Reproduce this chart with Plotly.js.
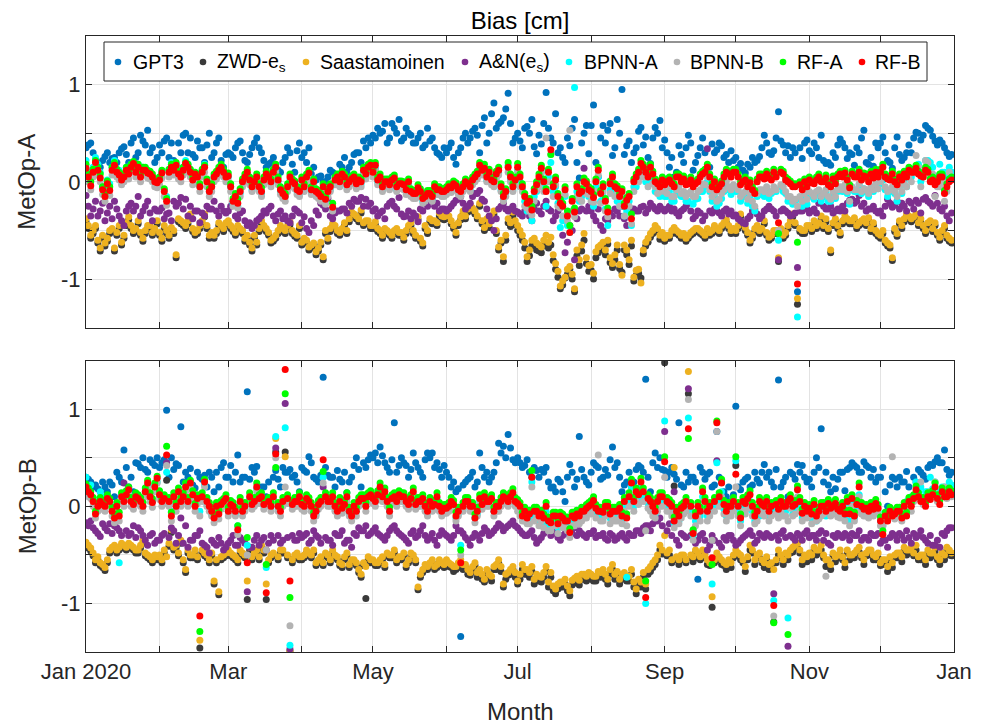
<!DOCTYPE html>
<html>
<head>
<meta charset="utf-8">
<script src="https://cdn.plot.ly/plotly-3.0.1.min.js"></script>
<style>html,body{margin:0;padding:0;background:#fff;}#chart{width:988px;height:724px;}</style>
</head>
<body>
<div id="chart"></div>
<script>
// ---- Data: daily bias [cm] in 2020, stored as even days (0,2,...,364) and odd days (1,3,...,365) from 2020-01-01 ----
const startDate = '2020-01-01';
const seriesNames = ['GPT3', 'ZWD-e<sub>s</sub>', 'Saastamoinen', 'A&amp;N(e<sub>s</sub>)', 'BPNN-A', 'BPNN-B', 'RF-A', 'RF-B'];
const seriesColors = ['#0072BD', '#3a3a3a', '#EDB120', '#7E2F8E', '#00FFFF', '#B3B3B3', '#00FF00', '#FF0000'];
const panelNames = ['MetOp-A', 'MetOp-B'];
const labelTicks = ['2020-01-01','2020-03-01','2020-05-01','2020-07-01','2020-09-01','2020-11-01','2021-01-01'];
const labelTickText = ['Jan 2020','Mar','May','Jul','Sep','Nov','Jan'];

// ===== MetOp-A, even days =====
const A_GPT3 = [
 0.35,0.40,0.22,0.15,0.26,0.20,0.25,0.30,0.36,0.20,0.45,0.30,0.42,0.53,0.35,0.25,
 0.30,0.45,0.40,0.15,0.30,0.50,0.45,0.25,0.35,0.20,0.50,0.30,0.45,0.15,
 0.30,0.25,0.40,0.30,0.20,0.35,0.45,0.30,0.15,0.20,0.15,0.10,0.25,0.30,0.10,0.40,
 0.30,0.35,0.15,0.05,0.00,0.05,0.10,0.04,0.15,0.10,0.20,0.30,0.20,0.35,0.40,
 0.45,0.50,0.60,0.45,0.55,0.64,0.45,0.50,0.40,0.45,0.35,0.55,0.45,0.30,0.25,
 0.30,0.40,0.18,0.35,0.50,0.45,0.55,0.30,0.66,0.50,0.81,0.60,0.66,0.91,0.40,
 0.50,0.35,0.57,0.64,0.29,0.39,0.92,0.45,0.70,0.35,0.20,0.37,0.64,0.04,0.50,0.29,
 0.79,0.05,0.58,0.53,0.27,0.64,0.95,0.37,0.20,0.35,0.56,0.46,0.19,0.56,0.63,
 0.43,0.15,0.05,0.37,0.20,0.48,0.12,0.27,0.45,0.08,0.39,0.33,0.37,0.28,0.32,
 0.25,0.19,0.09,0.15,0.20,0.26,0.48,0.30,0.32,0.72,0.38,0.37,0.35,-1.13,0.24,0.43,
 0.29,0.35,0.48,0.19,0.17,0.25,0.44,0.35,0.30,0.17,0.30,0.53,0.18,0.16,0.35,
 0.46,0.22,0.14,0.46,0.22,0.30,0.30,0.51,0.43,0.58,0.53,0.42,0.43,0.35,0.26];
const A_ZWD = [
 -0.41,-0.58,-0.48,-0.71,-0.66,-0.53,-0.71,-0.48,-0.58,-0.39,-0.53,-0.43,-0.61,-0.48,-0.55,-0.43,
 -0.61,-0.53,-0.50,-0.78,-0.43,-0.48,-0.36,-0.55,-0.48,-0.36,-0.58,-0.58,-0.45,-0.51,
 -0.43,-0.51,-0.48,-0.53,-0.58,-0.71,-0.65,-0.43,-0.51,-0.63,-0.58,-0.48,-0.53,-0.44,-0.56,-0.48,
 -0.61,-0.70,-0.66,-0.71,-0.80,-0.61,-0.46,-0.53,-0.51,-0.53,-0.34,-0.38,-0.32,-0.43,-0.48,
 -0.44,-0.53,-0.51,-0.55,-0.53,-0.55,-0.60,-0.48,-0.53,-0.39,-0.66,-0.53,-0.43,-0.45,-0.38,
 -0.34,-0.43,-0.55,-0.39,-0.38,-0.27,-0.33,-0.25,-0.50,-0.47,-0.33,-0.70,-0.82,-0.42,-0.35,
 -0.50,-0.60,-0.82,-0.66,-0.70,-0.73,-0.62,-0.65,-0.90,-1.10,-0.99,-0.90,-1.13,-0.86,-0.60,-0.92,
 -1.00,-0.73,-0.66,-0.64,-0.88,-0.70,-0.93,-0.75,-0.66,-0.96,-0.99,-0.66,-0.57,-0.49,-0.59,
 -0.61,-0.58,-0.50,-0.55,-0.56,-0.58,-0.53,-0.51,-0.55,-0.51,-0.53,-0.51,-0.48,-0.42,-0.53,
 -0.53,-0.36,-0.50,-0.63,-0.51,-0.53,-0.43,-0.60,-0.53,-0.82,-0.58,-0.48,-0.36,-1.26,-0.53,-0.48,
 -0.51,-0.48,-0.38,-0.41,-0.73,-0.41,-0.55,-0.38,-0.43,-0.40,-0.45,-0.41,-0.40,-0.45,-0.56,
 -0.53,-0.66,-0.81,-0.56,-0.48,-0.36,-0.41,-0.36,-0.41,-0.53,-0.43,-0.45,-0.60,-0.48,-0.61];
const A_SAAS = [
 -0.38,-0.55,-0.45,-0.68,-0.63,-0.50,-0.68,-0.45,-0.55,-0.36,-0.50,-0.40,-0.58,-0.45,-0.52,-0.40,
 -0.58,-0.50,-0.47,-0.75,-0.40,-0.45,-0.33,-0.52,-0.45,-0.33,-0.55,-0.55,-0.42,-0.48,
 -0.40,-0.48,-0.45,-0.50,-0.55,-0.68,-0.62,-0.40,-0.48,-0.60,-0.55,-0.45,-0.50,-0.41,-0.53,-0.45,
 -0.58,-0.67,-0.63,-0.68,-0.77,-0.58,-0.43,-0.50,-0.48,-0.50,-0.31,-0.35,-0.29,-0.40,-0.45,
 -0.41,-0.50,-0.48,-0.52,-0.50,-0.52,-0.57,-0.45,-0.50,-0.36,-0.63,-0.50,-0.40,-0.42,-0.35,
 -0.31,-0.40,-0.52,-0.36,-0.35,-0.24,-0.30,-0.22,-0.47,-0.43,-0.30,-0.67,-0.77,-0.38,-0.31,
 -0.45,-0.55,-0.77,-0.60,-0.63,-0.67,-0.55,-0.57,-0.84,-1.07,-0.98,-0.87,-1.10,-0.80,-0.53,-0.86,
 -0.94,-0.67,-0.62,-0.60,-0.84,-0.65,-0.96,-0.70,-0.60,-0.91,-1.04,-0.62,-0.53,-0.45,-0.55,
 -0.58,-0.55,-0.47,-0.52,-0.53,-0.55,-0.50,-0.48,-0.52,-0.48,-0.50,-0.48,-0.45,-0.39,-0.50,
 -0.50,-0.33,-0.47,-0.60,-0.48,-0.50,-0.40,-0.57,-0.50,-0.78,-0.55,-0.45,-0.33,-1.20,-0.50,-0.45,
 -0.48,-0.45,-0.35,-0.38,-0.70,-0.38,-0.52,-0.35,-0.40,-0.37,-0.42,-0.38,-0.37,-0.42,-0.53,
 -0.50,-0.63,-0.78,-0.53,-0.45,-0.33,-0.38,-0.33,-0.38,-0.50,-0.40,-0.42,-0.57,-0.45,-0.58];
const A_AN = [
 -0.14,-0.35,-0.20,-0.30,-0.40,-0.25,-0.20,-0.35,-0.45,-0.25,-0.30,-0.15,-0.30,-0.20,-0.40,-0.30,
 -0.27,-0.33,-0.40,-0.25,-0.16,-0.18,-0.25,-0.30,-0.42,-0.35,-0.28,-0.20,-0.35,-0.30,
 -0.30,-0.20,-0.38,-0.30,-0.45,-0.48,-0.40,-0.35,-0.32,-0.25,-0.40,-0.30,-0.35,-0.42,-0.28,-0.32,
 -0.36,-0.52,-0.45,-0.34,-0.24,-0.17,-0.38,-0.30,-0.28,-0.32,-0.25,-0.20,-0.16,-0.18,-0.22,
 -0.28,-0.32,-0.38,-0.22,-0.25,-0.16,-0.36,-0.30,-0.32,-0.41,-0.30,-0.25,-0.19,-0.22,-0.28,
 -0.30,-0.25,-0.19,-0.15,-0.28,-0.22,-0.12,-0.09,-0.20,-0.35,-0.50,-0.28,-0.22,-0.30,-0.25,
 -0.31,-0.35,-0.28,-0.40,-0.22,-0.33,-0.20,-0.30,-0.35,-0.25,-0.73,-0.45,-0.80,-0.30,0.14,-0.25,
 -0.35,-0.28,-0.50,-0.40,-0.35,-0.30,-0.25,-0.45,-0.28,-0.30,-0.26,-0.32,-0.22,-0.28,-0.25,
 -0.30,-0.25,-0.28,-0.35,-0.28,-0.22,-0.38,-0.30,-0.40,0.34,-0.32,-0.30,-0.35,-0.28,-0.30,
 -0.34,-0.40,-0.43,-0.35,-0.28,-0.38,-0.30,-0.25,-0.30,-0.80,-0.28,-0.32,-0.34,-0.88,-0.30,-0.28,
 -0.30,-0.32,-0.17,-0.28,-0.25,-0.30,-0.30,-0.30,-0.19,-0.22,-0.14,-0.22,-0.28,-0.25,-0.32,
 -0.35,-0.18,-0.26,-0.20,-0.22,-0.30,-0.22,-0.19,-0.32,-0.16,-0.22,-0.14,-0.28,-0.25,-0.40];
const A_BPNNA = [
 0.22,0.05,0.25,0.10,-0.10,-0.02,0.22,0.12,0.08,0.10,0.20,0.18,0.15,0.10,0.05,0.00,
 0.10,-0.15,0.20,0.18,0.05,0.22,0.12,0.05,-0.05,0.18,-0.10,0.05,0.10,0.08,
 0.05,-0.22,-0.25,0.00,0.08,-0.08,0.03,-0.12,0.05,-0.02,0.12,-0.10,-0.15,0.02,-0.05,-0.12,
 -0.08,0.06,-0.02,-0.15,-0.07,-0.12,-0.28,0.03,0.05,-0.05,0.00,-0.04,-0.02,0.05,0.15,
 0.14,0.02,-0.03,-0.06,0.02,-0.05,-0.06,-0.03,-0.15,-0.09,-0.20,-0.15,-0.18,-0.11,-0.13,
 -0.11,-0.09,-0.07,-0.13,-0.03,-0.08,0.02,0.14,0.12,0.07,-0.03,0.09,-0.18,0.17,-0.08,
 0.12,-0.08,-0.30,-0.40,-0.10,0.10,-0.25,0.20,-0.05,-0.47,-0.15,-0.52,0.97,-0.20,-0.08,-0.15,
 -0.25,0.05,-0.15,-0.45,-0.05,-0.20,-0.25,-0.30,-0.45,-0.05,0.10,0.00,0.05,-0.10,-0.15,
 -0.15,-0.10,-0.20,-0.13,-0.15,-0.20,-0.23,-0.17,-0.10,0.00,-0.20,-0.25,-0.17,-0.05,-0.13,
 -0.10,-0.20,-0.15,-0.17,-0.30,-0.13,-0.15,-0.17,-0.10,-0.60,-0.10,-0.20,-0.23,-1.39,-0.25,-0.23,
 -0.15,-0.13,-0.20,-0.10,-0.20,-0.17,-0.07,-0.05,-0.23,-0.10,-0.03,-0.07,-0.15,-0.10,-0.07,
 0.02,-0.15,-0.08,-0.20,-0.12,-0.05,0.05,0.15,0.00,0.22,0.20,0.05,0.18,0.10,0.15];
const A_BPNNB = [
 0.10,-0.08,0.15,0.00,-0.20,-0.14,0.12,0.02,0.00,0.03,0.14,0.10,0.07,0.04,0.00,-0.06,
 0.04,-0.24,0.10,0.12,0.00,0.14,0.05,0.03,-0.10,0.10,-0.15,0.00,0.07,0.05,
 0.01,-0.25,-0.27,-0.05,0.05,-0.10,0.00,-0.15,0.03,-0.05,0.10,-0.13,-0.20,0.00,-0.07,-0.15,
 -0.10,0.04,-0.05,-0.17,-0.10,-0.15,-0.30,0.00,0.03,-0.08,-0.02,-0.07,-0.05,0.03,0.12,
 0.12,0.00,-0.05,-0.08,-0.01,-0.07,-0.08,-0.05,-0.17,-0.11,-0.22,-0.17,-0.20,-0.13,-0.15,
 -0.13,-0.11,-0.09,-0.15,-0.05,-0.10,0.00,0.12,0.09,0.05,-0.05,0.07,-0.20,0.10,-0.10,
 0.10,-0.10,-0.27,-0.34,-0.08,0.09,0.45,0.28,-0.03,-0.27,-0.13,0.53,-0.36,-0.17,-0.05,-0.13,
 -0.21,0.07,-0.10,-0.36,0.00,-0.12,-0.15,-0.24,-0.43,0.00,0.14,0.05,0.10,-0.05,-0.10,
 -0.10,-0.05,-0.15,-0.05,-0.10,-0.12,-0.15,-0.10,-0.02,0.05,-0.15,-0.20,-0.12,0.00,-0.08,
 -0.05,-0.15,-0.10,-0.12,-0.25,-0.08,-0.10,-0.12,-0.05,-0.50,-0.05,-0.15,-0.20,-0.25,-0.20,-0.18,
 -0.12,-0.10,-0.15,-0.08,-0.18,-0.15,-0.05,-0.03,-0.20,-0.08,-0.02,-0.07,-0.12,-0.08,-0.07,
 0.05,-0.10,-0.05,-0.15,-0.10,-0.05,0.00,0.27,-0.05,0.22,0.05,-0.15,-0.05,-0.20,0.10];
const A_RFA = [
 0.18,0.00,0.22,0.08,-0.12,-0.05,0.20,0.10,0.08,0.12,0.21,0.18,0.15,0.12,0.08,0.02,
 0.12,-0.17,0.18,0.20,0.08,0.20,0.13,0.10,-0.02,0.17,-0.07,0.08,0.15,0.13,
 0.09,-0.17,-0.18,0.03,0.13,-0.02,0.08,-0.06,0.11,0.03,0.18,-0.05,-0.12,0.08,0.01,-0.06,
 -0.02,0.12,0.03,-0.09,-0.02,-0.07,-0.22,0.08,0.11,0.00,0.06,0.01,0.03,0.11,0.20,
 0.20,0.08,0.03,0.00,0.07,0.01,0.00,0.03,-0.09,-0.03,-0.14,-0.09,-0.12,-0.05,-0.07,
 -0.05,-0.03,-0.01,-0.07,0.03,-0.02,0.08,0.20,0.18,0.13,0.03,0.15,-0.12,0.20,-0.02,
 0.19,-0.02,-0.18,-0.25,0.00,0.17,-0.07,0.28,0.05,-0.18,-0.05,-0.45,-0.27,-0.09,0.04,-0.05,
 -0.13,0.15,-0.02,-0.27,0.08,-0.04,-0.07,-0.16,-0.33,0.08,0.22,0.13,0.18,0.03,-0.02,
 0.00,0.05,-0.02,0.08,0.06,0.01,-0.02,0.03,0.11,0.18,-0.02,-0.05,0.01,0.13,0.08,
 0.13,0.00,0.05,0.02,-0.09,0.08,0.06,0.07,0.13,-0.53,0.11,0.03,-0.02,-0.62,-0.05,-0.02,
 0.02,0.05,0.03,0.07,-0.02,0.01,0.11,0.12,-0.03,0.08,0.13,0.09,0.03,0.07,0.08,
 0.18,0.06,0.11,0.00,0.05,0.08,0.13,0.17,0.09,0.15,0.03,0.00,0.08,-0.09,0.03];
const A_RFB = [
 0.14,-0.04,0.20,0.04,-0.15,-0.09,0.17,0.07,0.05,0.08,0.19,0.15,0.12,0.09,0.05,-0.01,
 0.09,-0.20,0.15,0.17,0.05,0.19,0.10,0.08,-0.05,0.15,-0.10,0.05,0.12,0.10,
 0.06,-0.20,-0.22,0.00,0.10,-0.05,0.05,-0.10,0.08,0.00,0.15,-0.08,-0.15,0.05,-0.02,-0.10,
 -0.05,0.09,0.00,-0.12,-0.05,-0.10,-0.26,0.05,0.08,-0.03,0.03,-0.02,0.00,0.08,0.17,
 0.17,0.05,0.00,-0.03,0.04,-0.02,-0.03,0.00,-0.12,-0.06,-0.17,-0.12,-0.15,-0.08,-0.10,
 -0.08,-0.06,-0.04,-0.10,0.00,-0.05,0.05,0.17,0.14,0.10,0.00,0.12,-0.15,0.15,-0.05,
 0.15,-0.05,-0.22,-0.29,-0.03,0.14,-0.10,0.33,0.02,-0.22,-0.08,-0.52,-0.31,-0.12,0.00,-0.08,
 -0.16,0.12,-0.05,-0.31,0.05,-0.07,-0.10,-0.19,-0.38,0.05,0.19,0.10,0.15,0.00,-0.05,
 -0.03,0.02,-0.05,0.05,0.03,-0.02,-0.05,0.00,0.08,0.15,-0.05,-0.08,-0.02,0.10,0.05,
 0.10,-0.03,0.02,-0.01,-0.12,0.05,0.03,0.04,0.10,-0.42,0.08,0.00,-0.05,-1.05,-0.08,-0.05,
 -0.01,0.02,0.00,0.04,-0.05,-0.02,0.08,0.09,-0.06,0.05,0.10,0.06,0.00,0.04,0.05,
 0.15,0.03,0.08,-0.03,0.02,0.05,0.10,0.14,0.06,0.12,0.00,-0.03,0.05,-0.12,0.00];

// ===== MetOp-A, odd days =====
const A_GPT3_odd = [
 0.38,0.30,0.18,0.22,0.30,0.24,0.20,0.34,0.28,0.40,0.25,0.48,0.38,0.30,0.20,
 0.38,0.42,0.25,0.22,0.40,0.48,0.30,0.28,0.42,0.35,0.38,0.25,0.40,0.22,0.28,
 0.28,0.35,0.42,0.22,0.28,0.40,0.35,0.22,0.18,0.25,0.12,0.20,0.35,0.18,0.32,
 0.25,0.20,0.08,0.02,0.06,0.00,0.12,0.08,0.18,0.25,0.15,0.28,0.30,0.42,0.45,
 0.48,0.55,0.52,0.40,0.60,0.50,0.42,0.55,0.48,0.40,0.50,0.38,0.42,0.35,0.28,0.35,
 0.35,0.25,0.30,0.45,0.40,0.52,0.48,0.58,0.40,0.70,0.55,0.62,0.75,0.60,0.45,
 0.42,0.55,0.50,0.36,0.48,0.60,0.55,0.40,0.30,0.25,0.45,0.55,0.20,0.40,0.58,
 0.58,0.20,0.45,0.40,0.60,0.35,0.50,0.28,0.42,0.30,0.52,0.38,0.25,0.45,0.50,0.35,
 0.30,0.25,0.10,0.28,0.35,0.40,0.20,0.35,0.30,0.15,0.30,0.40,0.25,0.20,0.22,
 0.15,0.12,0.18,0.25,0.22,0.35,0.40,0.28,0.45,0.42,0.30,0.25,0.30,0.35,0.40,
 0.32,0.40,0.25,0.22,0.20,0.30,0.38,0.40,0.24,0.28,0.35,0.45,0.20,0.25,0.40,
 0.40,0.30,0.20,0.35,0.28,0.25,0.38,0.45,0.50,0.48,0.55,0.47,0.38,0.40,0.30,0.28];
const A_ZWD_odd = [
 -0.48,-0.53,-0.63,-0.58,-0.61,-0.51,-0.55,-0.65,-0.45,-0.48,-0.51,-0.55,-0.53,-0.48,-0.51,
 -0.55,-0.48,-0.58,-0.53,-0.41,-0.45,-0.43,-0.51,-0.53,-0.43,-0.48,-0.55,-0.53,-0.48,-0.45,
 -0.48,-0.55,-0.51,-0.61,-0.65,-0.58,-0.51,-0.48,-0.55,-0.61,-0.53,-0.51,-0.48,-0.53,-0.58,
 -0.65,-0.63,-0.68,-0.75,-0.65,-0.53,-0.51,-0.48,-0.55,-0.45,-0.41,-0.36,-0.41,-0.45,-0.43,
 -0.48,-0.51,-0.58,-0.53,-0.58,-0.51,-0.55,-0.53,-0.45,-0.58,-0.61,-0.48,-0.41,-0.43,-0.35,-0.39,
 -0.38,-0.48,-0.45,-0.33,-0.31,-0.30,-0.38,-0.43,-0.41,-0.38,-0.53,-0.63,-0.60,-0.46,-0.44,
 -0.55,-0.68,-0.76,-0.64,-0.71,-0.66,-0.68,-0.81,-0.98,-1.06,-0.95,-1.00,-0.76,-0.71,-0.84,
 -0.91,-0.78,-0.70,-0.75,-0.83,-0.80,-0.89,-0.70,-0.85,-1.02,-0.94,-0.74,-0.62,-0.53,-0.51,-0.55,
 -0.58,-0.53,-0.53,-0.58,-0.61,-0.55,-0.51,-0.53,-0.58,-0.55,-0.48,-0.53,-0.45,-0.48,-0.51,
 -0.48,-0.45,-0.55,-0.58,-0.48,-0.51,-0.55,-0.58,-0.53,-0.51,-0.55,-0.43,-0.45,-0.51,-0.53,
 -0.48,-0.43,-0.45,-0.48,-0.51,-0.45,-0.48,-0.43,-0.41,-0.43,-0.48,-0.43,-0.45,-0.51,-0.53,
 -0.58,-0.63,-0.68,-0.51,-0.43,-0.41,-0.38,-0.39,-0.45,-0.48,-0.45,-0.51,-0.55,-0.53,-0.58,-0.63];
const A_SAAS_odd = [
 -0.45,-0.50,-0.60,-0.55,-0.58,-0.48,-0.52,-0.62,-0.42,-0.45,-0.48,-0.52,-0.50,-0.45,-0.48,
 -0.52,-0.45,-0.55,-0.50,-0.38,-0.42,-0.40,-0.48,-0.50,-0.40,-0.45,-0.52,-0.50,-0.45,-0.42,
 -0.45,-0.52,-0.48,-0.58,-0.62,-0.55,-0.48,-0.45,-0.52,-0.58,-0.50,-0.48,-0.45,-0.50,-0.55,
 -0.62,-0.60,-0.65,-0.72,-0.62,-0.50,-0.48,-0.45,-0.52,-0.42,-0.38,-0.33,-0.38,-0.42,-0.40,
 -0.45,-0.48,-0.55,-0.50,-0.55,-0.48,-0.52,-0.50,-0.42,-0.55,-0.58,-0.45,-0.38,-0.40,-0.32,-0.36,
 -0.35,-0.45,-0.42,-0.30,-0.28,-0.27,-0.35,-0.40,-0.38,-0.35,-0.50,-0.60,-0.55,-0.42,-0.40,
 -0.50,-0.62,-0.70,-0.58,-0.65,-0.60,-0.62,-0.75,-0.92,-1.02,-0.90,-0.95,-0.70,-0.65,-0.78,
 -0.85,-0.72,-0.65,-0.70,-0.78,-0.75,-0.85,-0.65,-0.80,-0.98,-0.90,-0.70,-0.58,-0.50,-0.48,-0.52,
 -0.55,-0.50,-0.50,-0.55,-0.58,-0.52,-0.48,-0.50,-0.55,-0.52,-0.45,-0.50,-0.42,-0.45,-0.48,
 -0.45,-0.42,-0.52,-0.55,-0.45,-0.48,-0.52,-0.55,-0.50,-0.48,-0.52,-0.40,-0.42,-0.48,-0.50,
 -0.45,-0.40,-0.42,-0.45,-0.48,-0.42,-0.45,-0.40,-0.38,-0.40,-0.45,-0.40,-0.42,-0.48,-0.50,
 -0.55,-0.60,-0.65,-0.48,-0.40,-0.38,-0.35,-0.36,-0.42,-0.45,-0.42,-0.48,-0.52,-0.50,-0.55,-0.60];
const A_AN_odd = [
 -0.25,-0.28,-0.35,-0.22,-0.32,-0.38,-0.28,-0.40,-0.30,-0.22,-0.25,-0.35,-0.25,-0.32,-0.28,
 -0.30,-0.38,-0.32,-0.20,-0.22,-0.28,-0.35,-0.38,-0.30,-0.32,-0.25,-0.28,-0.30,-0.25,-0.32,
 -0.25,-0.35,-0.32,-0.40,-0.42,-0.45,-0.38,-0.30,-0.28,-0.35,-0.33,-0.38,-0.40,-0.35,-0.30,
 -0.42,-0.48,-0.40,-0.30,-0.22,-0.28,-0.35,-0.32,-0.30,-0.28,-0.22,-0.18,-0.20,-0.25,-0.25,
 -0.30,-0.35,-0.30,-0.25,-0.20,-0.28,-0.33,-0.35,-0.38,-0.35,-0.28,-0.22,-0.20,-0.25,-0.30,-0.28,
 -0.28,-0.22,-0.18,-0.22,-0.25,-0.15,-0.12,-0.18,-0.28,-0.40,-0.38,-0.25,-0.28,-0.28,-0.30,
 -0.33,-0.30,-0.35,-0.28,-0.30,-0.25,-0.28,-0.40,-0.30,-0.55,-0.62,-0.50,-0.38,-0.28,-0.30,
 -0.30,-0.40,-0.45,-0.38,-0.32,-0.28,-0.35,-0.38,-0.30,-0.28,-0.30,-0.25,-0.28,-0.25,-0.30,-0.28,
 -0.28,-0.30,-0.32,-0.30,-0.25,-0.30,-0.35,-0.32,-0.35,-0.30,-0.28,-0.32,-0.30,-0.33,-0.35,
 -0.38,-0.42,-0.38,-0.30,-0.33,-0.35,-0.28,-0.28,-0.35,-0.30,-0.30,-0.35,-0.32,-0.30,-0.26,
 -0.32,-0.28,-0.22,-0.25,-0.28,-0.32,-0.28,-0.25,-0.22,-0.18,-0.20,-0.25,-0.30,-0.28,-0.30,
 -0.30,-0.25,-0.22,-0.24,-0.28,-0.25,-0.20,-0.28,-0.22,-0.18,-0.20,-0.25,-0.22,-0.30,-0.35,-0.32];
const A_BPNNA_odd = [
 0.10,0.15,0.18,-0.05,0.02,0.15,0.12,0.05,0.15,0.18,0.12,0.08,0.14,0.10,0.02,
 0.05,-0.08,0.12,0.15,0.10,0.15,0.18,0.05,0.08,0.12,0.02,-0.05,0.10,0.15,0.05,
 -0.05,-0.18,-0.12,0.05,0.00,-0.02,-0.08,0.00,0.05,0.08,0.00,-0.15,-0.08,-0.02,-0.10,
 0.00,0.03,-0.10,-0.12,-0.18,-0.20,-0.08,0.00,-0.02,0.02,-0.02,0.03,0.00,0.10,0.12,
 0.08,0.00,-0.08,-0.02,0.00,-0.08,-0.05,-0.10,-0.12,-0.15,-0.12,-0.18,-0.15,-0.08,-0.10,-0.12,
 -0.08,-0.05,-0.10,-0.08,-0.05,0.00,0.05,0.10,0.02,0.00,0.05,-0.08,-0.12,0.02,0.00,
 0.00,-0.20,-0.28,-0.15,0.00,-0.05,0.05,-0.10,-0.22,-0.40,-0.45,-0.30,-0.10,-0.15,-0.08,
 -0.15,-0.05,-0.20,-0.28,-0.08,-0.10,-0.22,-0.35,-0.20,-0.05,0.05,0.08,0.00,0.02,-0.08,-0.05,
 -0.15,-0.20,-0.10,-0.15,-0.20,-0.12,-0.18,-0.10,-0.05,-0.10,-0.15,-0.22,-0.10,-0.08,-0.05,
 -0.10,-0.15,-0.22,-0.25,-0.15,-0.10,-0.08,-0.12,-0.10,-0.05,-0.12,-0.18,-0.22,-0.18,-0.15,
 -0.12,-0.18,-0.10,-0.15,-0.20,-0.12,-0.10,-0.10,-0.12,-0.08,-0.10,-0.12,-0.10,-0.08,-0.05,
 -0.02,-0.08,-0.10,-0.12,-0.05,0.00,0.08,0.12,0.18,0.10,0.22,0.15,0.05,0.10,0.05,0.10];
const A_BPNNB_odd = [
 0.00,0.05,0.07,-0.13,-0.07,0.07,0.05,-0.03,0.07,0.10,0.05,0.00,0.07,0.03,-0.05,
 -0.03,-0.15,0.05,0.07,0.03,0.07,0.10,-0.03,0.00,0.05,-0.05,-0.10,0.03,0.10,0.00,
 -0.10,-0.20,-0.15,0.00,-0.03,-0.05,-0.10,-0.03,0.00,0.05,-0.03,-0.17,-0.10,-0.05,-0.13,
 -0.03,0.00,-0.13,-0.15,-0.20,-0.23,-0.10,-0.03,-0.05,0.00,-0.05,0.00,-0.03,0.07,0.10,
 0.05,-0.03,-0.10,-0.05,-0.03,-0.10,-0.07,-0.13,-0.15,-0.17,-0.15,-0.20,-0.17,-0.10,-0.13,-0.15,
 -0.10,-0.07,-0.13,-0.10,-0.07,-0.03,0.03,0.07,0.00,-0.03,0.03,-0.10,-0.15,0.00,-0.03,
 -0.05,-0.25,-0.30,-0.20,-0.05,-0.10,0.00,-0.15,-0.25,-0.35,-0.40,-0.30,-0.15,-0.20,-0.12,
 -0.20,-0.10,-0.22,-0.30,-0.12,-0.15,-0.25,-0.35,-0.25,-0.10,0.00,0.05,-0.05,-0.02,-0.12,-0.08,
 -0.12,-0.15,-0.08,-0.12,-0.15,-0.10,-0.15,-0.08,-0.03,-0.08,-0.12,-0.18,-0.08,-0.05,-0.03,
 -0.08,-0.12,-0.18,-0.20,-0.12,-0.08,-0.05,-0.10,-0.08,-0.03,-0.10,-0.15,-0.18,-0.15,-0.12,
 -0.10,-0.15,-0.08,-0.12,-0.15,-0.10,-0.08,-0.08,-0.10,-0.05,-0.08,-0.10,-0.08,-0.05,-0.02,
 0.00,-0.05,-0.08,-0.10,-0.05,-0.02,0.05,0.10,0.15,0.05,0.20,0.08,-0.05,0.00,-0.10,0.05];
const A_RFA_odd = [
 0.08,0.13,0.15,-0.05,0.01,0.15,0.13,0.05,0.15,0.18,0.13,0.08,0.15,0.11,0.03,
 0.05,-0.07,0.13,0.15,0.11,0.15,0.18,0.05,0.08,0.13,0.03,-0.02,0.11,0.18,0.08,
 -0.02,-0.12,-0.07,0.08,0.05,0.03,-0.02,0.05,0.08,0.13,0.05,-0.09,-0.02,0.03,-0.05,
 0.05,0.08,-0.05,-0.07,-0.12,-0.15,-0.02,0.05,0.03,0.08,0.03,0.08,0.05,0.15,0.18,
 0.13,0.05,-0.02,0.03,0.05,-0.02,0.01,-0.05,-0.07,-0.09,-0.07,-0.12,-0.09,-0.02,-0.05,-0.07,
 -0.02,0.01,-0.05,-0.02,0.01,0.05,0.11,0.15,0.08,0.05,0.11,-0.02,-0.07,0.08,0.05,
 0.08,-0.12,-0.17,-0.07,0.08,0.03,0.13,-0.02,-0.12,-0.22,-0.30,-0.17,-0.02,-0.07,0.01,
 -0.07,0.03,-0.09,-0.17,0.01,-0.02,-0.12,-0.22,-0.12,0.03,0.13,0.18,0.08,0.11,0.01,0.05,
 0.03,0.01,0.08,0.03,0.00,0.05,0.01,0.08,0.13,0.08,0.03,-0.02,0.08,0.11,0.13,
 0.08,0.03,-0.02,-0.05,0.03,0.08,0.11,0.05,0.08,0.13,0.05,0.01,-0.02,0.00,0.03,
 0.05,0.01,0.08,0.03,0.00,0.06,0.08,0.08,0.05,0.11,0.08,0.05,0.08,0.11,0.13,
 0.13,0.08,0.05,0.03,0.08,0.11,0.15,0.13,0.11,0.08,0.13,0.05,0.03,0.08,-0.02,0.05];
const A_RFB_odd = [
 0.05,0.10,0.12,-0.08,-0.02,0.12,0.10,0.02,0.12,0.15,0.10,0.05,0.12,0.08,0.00,
 0.02,-0.10,0.10,0.12,0.08,0.12,0.15,0.02,0.05,0.10,0.00,-0.05,0.08,0.15,0.05,
 -0.05,-0.15,-0.10,0.05,0.02,0.00,-0.05,0.02,0.05,0.10,0.02,-0.12,-0.05,0.00,-0.08,
 0.02,0.05,-0.08,-0.10,-0.15,-0.18,-0.05,0.02,0.00,0.05,0.00,0.05,0.02,0.12,0.15,
 0.10,0.02,-0.05,0.00,0.02,-0.05,-0.02,-0.08,-0.10,-0.12,-0.10,-0.15,-0.12,-0.05,-0.08,-0.10,
 -0.05,-0.02,-0.08,-0.05,-0.02,0.02,0.08,0.12,0.05,0.02,0.08,-0.05,-0.10,0.05,0.02,
 0.05,-0.15,-0.20,-0.10,0.05,0.00,0.10,-0.05,-0.15,-0.25,-0.35,-0.20,-0.05,-0.10,-0.02,
 -0.10,0.00,-0.12,-0.20,-0.02,-0.05,-0.15,-0.25,-0.15,0.00,0.10,0.15,0.05,0.08,-0.02,0.02,
 0.00,-0.02,0.05,0.00,-0.03,0.02,-0.02,0.05,0.10,0.05,0.00,-0.05,0.05,0.08,0.10,
 0.05,0.00,-0.05,-0.08,0.00,0.05,0.08,0.02,0.05,0.10,0.02,-0.02,-0.05,-0.03,0.00,
 0.02,-0.02,0.05,0.00,-0.03,0.03,0.05,0.05,0.02,0.08,0.05,0.02,0.05,0.08,0.10,
 0.10,0.05,0.02,0.00,0.05,0.08,0.12,0.10,0.08,0.05,0.10,0.02,0.00,0.05,-0.05,0.02];

// ===== MetOp-B, even days =====
const B_GPT3 = [
 0.30,0.25,0.22,0.15,0.20,0.25,0.10,0.30,0.58,0.20,0.15,0.44,0.50,0.35,0.45,0.50,
 0.45,0.99,0.50,0.44,0.82,0.35,0.39,0.19,0.30,0.32,0.35,0.15,0.20,0.45,
 0.30,0.25,0.53,0.30,1.18,0.40,0.41,0.20,0.10,0.05,0.37,0.20,0.35,0.38,0.32,0.15,
 0.37,0.51,0.30,0.25,1.33,0.32,0.30,0.37,0.25,0.14,0.30,0.50,0.20,0.40,0.53,
 0.55,0.61,0.45,0.35,0.86,0.42,0.45,0.30,0.55,0.40,0.30,0.55,0.55,0.45,0.30,
 0.35,0.20,0.15,-1.34,0.25,0.30,0.20,0.55,0.30,0.25,0.35,0.65,0.62,0.74,0.48,
 0.50,0.40,0.48,0.30,0.37,0.38,0.40,0.19,0.15,0.25,0.05,0.43,0.20,0.72,0.30,0.22,
 0.45,0.40,0.30,0.32,0.61,0.45,0.15,0.25,0.20,0.38,0.40,1.31,0.15,0.55,0.50,
 0.37,0.35,0.33,0.86,0.20,0.25,0.30,-0.75,0.35,0.33,0.20,0.77,0.25,0.10,0.05,
 1.03,0.17,0.28,0.20,0.35,0.24,0.43,0.35,0.20,1.30,0.25,0.10,0.33,0.43,0.42,0.25,
 0.20,0.50,0.80,0.35,0.15,0.18,0.35,0.16,0.40,0.42,0.35,0.46,0.40,0.38,0.30,
 0.40,0.00,0.30,0.20,0.25,0.36,0.05,0.25,0.35,0.28,0.43,0.46,0.45,0.58,0.32];
const B_ZWD = [
 -0.40,-0.46,-0.58,-0.61,-0.66,-0.48,-0.43,-0.45,-0.43,-0.41,-0.45,-0.48,-0.38,-0.53,-0.58,-0.55,
 -0.58,0.27,-0.27,-0.43,-0.38,-0.68,-0.53,-0.48,-1.46,-0.51,-0.58,-0.80,-0.91,-0.53,
 -0.48,-0.53,-0.58,-0.51,-0.96,-0.55,-0.48,-0.43,-0.96,-0.53,0.56,-0.48,0.56,-1.49,-0.53,-0.55,
 -0.53,-0.51,-0.48,-0.58,-0.61,-0.53,-0.48,-0.55,-0.63,-0.51,-0.58,-0.61,-0.73,-0.95,-0.58,
 -0.61,-0.58,-0.63,-0.53,-0.48,-0.55,-0.51,-0.58,-0.53,-0.86,-0.68,-0.65,-0.58,-0.63,-0.61,
 -0.58,-0.63,-0.65,-0.58,-0.63,-0.71,-0.61,-0.68,-0.78,-0.73,-0.65,-0.58,-0.83,-0.71,-0.65,
 -0.80,-0.65,-0.70,-0.67,-0.75,-0.78,-0.67,-0.73,-0.90,-0.83,-0.80,-0.92,-0.79,-0.81,-0.75,-0.73,
 -0.77,-0.72,-0.70,-0.80,-0.65,-0.72,-0.75,-0.77,-0.70,-0.90,-0.83,-0.85,-0.67,-0.60,-0.45,
 1.48,-0.50,0.21,-0.60,-0.55,1.16,-0.57,-0.53,-0.50,-0.60,-1.04,-0.53,-0.60,-0.65,-0.63,
 0.42,-0.55,-0.67,-0.45,-0.60,-0.53,-0.63,-0.65,-1.19,-0.50,-0.60,-0.55,-0.47,-0.43,-0.60,-0.57,
 -0.55,-0.50,-0.45,-0.62,-0.65,-0.57,-0.50,-0.63,-0.55,-0.53,-0.47,-0.60,-0.50,-0.55,-0.53,
 -0.60,-0.67,-0.63,-0.53,-0.57,-0.50,-0.47,-0.45,-0.55,-0.60,-0.53,-0.47,-0.60,-0.55,-0.50];
const B_SAAS = [
 -0.37,-0.43,-0.55,-0.58,-0.63,-0.45,-0.40,-0.42,-0.40,-0.38,-0.42,-0.45,-0.35,-0.50,-0.55,-0.52,
 -0.55,-0.52,-0.24,-0.40,-0.35,-0.65,-0.50,-0.45,-1.38,-0.48,-0.55,-0.77,-0.88,-0.50,
 -0.45,-0.50,-0.55,-0.48,-0.77,-0.52,-0.45,-0.40,-0.80,-0.50,0.70,-0.45,0.51,-1.49,-0.50,-0.52,
 -0.50,-0.48,-0.45,-0.55,-0.58,-0.50,-0.45,-0.52,-0.60,-0.48,-0.55,-0.58,-0.70,-0.62,-0.55,
 -0.58,-0.55,-0.60,-0.50,-0.45,-0.52,-0.48,-0.55,-0.50,-0.83,-0.65,-0.62,-0.55,-0.60,-0.58,
 -0.55,-0.60,-0.62,-0.55,-0.60,-0.68,-0.58,-0.65,-0.75,-0.70,-0.62,-0.55,-0.80,-0.68,-0.62,
 -0.77,-0.60,-0.65,-0.62,-0.70,-0.73,-0.62,-0.68,-0.85,-0.78,-0.75,-0.87,-0.74,-0.76,-0.70,-0.68,
 -0.72,-0.67,-0.65,-0.75,-0.60,-0.67,-0.70,-0.72,-0.65,-0.85,-0.78,-0.80,-0.62,-0.55,-0.40,
 -0.30,-0.45,0.40,-0.55,-0.50,1.39,-0.52,-0.48,-0.45,-0.55,-0.93,-0.48,-0.55,-0.60,-0.58,
 -0.45,-0.50,-0.62,-0.40,-0.55,-0.48,-0.58,-0.60,-0.65,-0.45,-0.55,-0.50,-0.42,-0.38,-0.55,-0.52,
 -0.50,-0.45,-0.40,-0.55,-0.60,-0.52,-0.45,-0.58,-0.50,-0.48,-0.42,-0.55,-0.45,-0.50,-0.48,
 -0.55,-0.62,-0.58,-0.48,-0.52,-0.45,-0.42,-0.40,-0.50,-0.55,-0.48,-0.42,-0.55,-0.50,-0.45];
const B_AN = [
 -0.17,-0.15,-0.25,-0.31,-0.22,-0.18,-0.20,-0.25,0.24,-0.30,-0.20,-0.22,-0.30,-0.40,-0.28,-0.35,
 -0.30,0.45,-0.22,-0.38,-0.12,-0.20,-0.35,-0.30,-0.25,-0.40,-0.48,-0.38,-0.32,-0.45,
 -0.38,-0.30,-0.40,-0.35,-0.88,-0.42,-0.30,-0.35,-0.45,-0.30,0.60,-0.38,1.06,-1.47,-0.35,-0.28,
 -0.30,-0.38,-0.25,-0.32,0.20,-0.35,-0.40,-0.30,-0.25,-0.35,-0.42,-0.30,-0.25,-0.20,-0.28,
 -0.22,-0.30,-0.35,-0.25,-0.20,-0.28,-0.32,-0.38,-0.25,-0.30,-0.20,-0.35,-0.28,-0.40,-0.25,
 -0.30,-0.35,-0.20,-0.25,-0.32,-0.40,-0.28,-0.35,-0.22,-0.30,-0.25,-0.18,-0.25,-0.20,-0.15,
 -0.22,-0.28,-0.30,-0.25,-0.38,-0.32,-0.20,-0.30,-0.25,-0.35,-0.28,-0.30,-0.22,-0.25,-0.30,-0.28,
 -0.25,-0.30,-0.28,-0.35,-0.30,-0.33,-0.28,-0.35,-0.30,-0.25,-0.28,-0.20,-0.25,-0.15,-0.12,
 0.77,-0.18,0.15,-0.40,-0.30,1.21,-0.25,-0.35,-0.28,-0.45,-0.30,0.47,-0.42,-0.35,-0.30,
 -0.40,-0.35,-0.30,-0.25,-0.38,-0.28,-0.32,-0.30,-0.90,-0.35,-0.25,-1.44,-0.32,-0.28,-0.35,-0.25,
 -0.30,-0.35,-0.25,-0.28,-0.40,-0.32,-0.30,-0.28,-0.35,-0.30,-0.25,-0.32,-0.35,-0.30,-0.28,
 -0.35,-0.42,-0.28,-0.35,-0.30,-0.25,-0.38,-0.32,-0.25,-0.35,-0.30,-0.40,-0.42,-0.30,-0.22];
const B_BPNNA = [
 0.30,0.22,0.00,0.15,0.10,0.05,-0.05,-0.58,0.08,0.15,0.05,0.10,0.00,0.22,0.05,0.25,
 0.05,0.35,-0.05,0.02,0.10,0.22,0.25,0.05,-0.05,0.22,0.00,-0.10,-0.05,0.05,
 -0.05,0.02,-0.20,-0.05,-0.40,0.00,0.18,0.10,-0.63,0.00,0.72,-0.02,0.81,-1.43,0.02,0.08,
 0.00,0.05,-0.08,0.02,0.30,0.05,0.08,-0.05,-0.02,0.08,-0.10,-0.05,0.05,0.00,0.10,
 0.05,0.18,0.12,-0.05,0.08,0.10,0.10,0.00,0.12,0.05,0.05,-0.08,0.00,0.08,-0.05,
 -0.02,0.03,-0.12,-0.40,0.05,0.00,-0.12,0.05,0.10,0.05,-0.05,0.00,0.08,0.03,0.12,
 0.00,-0.12,-0.15,0.25,-0.08,-0.10,-0.05,-0.20,-0.15,-0.12,-0.18,-0.28,-0.15,-0.12,-0.08,-0.05,
 0.02,-0.08,-0.10,-0.05,-0.08,-0.10,-0.15,-0.73,0.20,0.10,0.20,-1.00,0.00,-0.08,0.05,
 0.88,0.00,-0.18,-0.15,-0.05,0.91,-0.30,-0.05,0.10,-0.10,-0.80,0.45,0.15,-0.10,-0.05,
 0.47,-0.15,-0.05,0.05,-0.15,-0.10,-0.05,-0.10,-0.97,-0.08,-0.05,-1.15,-0.08,0.05,-0.12,-0.10,
 -0.12,-0.15,-0.05,-0.10,-0.08,-0.02,-0.10,-0.12,-0.15,-0.12,0.12,-0.08,-0.10,-0.08,-0.05,
 -0.20,-0.10,-0.05,-0.02,-0.08,0.05,0.10,0.25,0.20,0.15,0.30,0.25,0.15,0.20,0.25];
const B_BPNNB = [
 0.15,0.08,-0.12,0.00,-0.05,0.00,-0.17,-0.15,0.00,0.12,-0.03,0.03,-0.05,0.19,-0.01,0.24,
 0.00,0.42,-0.15,-0.05,0.00,0.15,0.19,-0.05,-0.10,0.20,-0.05,-0.17,-0.13,0.00,
 -0.10,-0.05,-0.29,-0.10,-0.50,-0.03,0.15,0.05,-0.45,-0.05,0.50,-0.10,0.20,-1.23,0.00,0.05,
 -0.05,0.00,-0.15,-0.03,0.24,0.00,0.05,-0.10,-0.07,0.05,-0.15,-0.10,0.03,-0.05,0.07,
 0.00,0.15,0.10,-0.10,0.05,0.07,0.05,-0.03,0.10,0.00,0.03,-0.10,-0.05,0.05,-0.10,
 -0.07,0.00,-0.15,-0.50,0.00,-0.05,-0.17,0.03,0.05,0.00,-0.10,-0.05,0.05,0.00,0.09,
 -0.05,-0.15,-0.18,0.20,-0.12,-0.15,-0.10,-0.25,-0.20,-0.18,-0.22,-0.32,-0.20,-0.18,-0.12,-0.08,
 -0.02,0.53,-0.15,-0.08,-0.12,-0.15,-0.18,-0.20,0.10,0.05,0.15,-0.25,-0.05,-0.12,0.00,
 0.30,-0.05,-0.22,-0.18,-0.08,1.10,-0.35,-0.10,0.05,-0.15,-0.35,0.77,0.10,-0.15,-0.10,
 0.20,-0.20,-0.08,0.02,-0.18,-0.05,-0.10,-0.15,-1.13,-0.12,-0.10,-0.15,-0.10,0.10,-0.15,-0.12,
 -0.18,-0.15,-0.10,-0.72,-0.10,-0.05,-0.12,-0.15,-0.20,-0.15,0.10,-0.10,-0.12,-0.10,-0.08,
 -0.20,-0.12,0.51,-0.10,-0.15,-0.05,-0.05,0.10,0.25,0.05,0.15,0.25,0.10,0.20,0.10];
const B_RFA = [
 0.23,0.15,-0.05,0.09,0.04,0.08,-0.08,-0.06,0.09,0.20,0.05,0.12,0.04,0.27,0.08,0.31,
 0.08,0.62,-0.06,0.04,0.09,0.24,0.27,0.03,-1.29,0.28,0.04,-0.08,-0.04,0.08,
 -0.01,0.04,-0.20,-0.01,-0.32,0.06,0.24,0.14,-0.60,0.04,0.40,-0.01,1.16,-0.94,0.09,0.14,
 0.04,0.09,-0.06,0.06,0.36,0.09,0.14,-0.01,0.02,0.14,-0.06,-0.01,0.12,0.04,0.16,
 0.09,0.24,0.19,-0.01,0.14,0.16,0.14,0.06,0.19,0.09,0.12,-0.01,0.04,0.14,-0.01,
 0.02,0.09,-0.06,-0.45,0.09,0.04,-0.08,0.12,0.14,0.09,-0.01,0.04,0.14,0.09,0.18,
 0.07,-0.06,-0.08,0.37,-0.01,-0.04,0.04,-0.13,-0.06,-0.06,-0.11,-0.23,-0.08,-0.06,-0.01,0.04,
 0.10,-0.01,-0.02,0.04,-0.01,-0.01,-0.06,-0.08,0.28,0.19,0.29,-0.77,0.09,-0.01,0.14,
 0.51,0.07,-0.11,-0.06,0.04,0.70,-0.24,0.04,0.19,-0.01,-0.60,0.88,0.28,-0.01,0.04,
 0.51,-0.08,0.07,0.16,-0.06,0.09,0.04,-0.01,-1.20,0.01,0.04,-1.32,0.04,0.21,-0.03,-0.01,
 -0.04,-0.06,0.04,-0.01,0.02,0.07,-0.01,-0.04,-0.04,-0.06,0.24,0.01,-0.01,0.01,0.02,
 -0.25,-0.11,-0.06,-0.01,-0.08,-0.06,0.04,0.21,0.09,0.04,0.11,0.24,0.06,0.14,0.19];
const B_RFB = [
 0.20,0.12,-0.08,0.05,0.00,0.05,-0.12,-0.10,0.05,0.17,0.02,0.08,0.00,0.24,0.04,0.29,
 0.05,0.53,-0.10,0.00,0.05,0.20,0.24,0.00,-1.13,0.25,0.00,-0.12,-0.08,0.05,
 -0.05,0.00,-0.24,-0.05,-0.58,0.02,0.20,0.10,-0.89,0.00,0.54,-0.05,1.41,-0.77,0.05,0.10,
 0.00,0.05,-0.10,0.02,0.48,0.05,0.10,-0.05,-0.02,0.10,-0.10,-0.05,0.08,0.00,0.12,
 0.05,0.20,0.15,-0.05,0.10,0.12,0.10,0.02,0.15,0.05,0.08,-0.05,0.00,0.10,-0.05,
 -0.02,0.05,-0.10,-0.58,0.05,0.00,-0.12,0.08,0.10,0.05,-0.05,0.00,0.10,0.05,0.14,
 0.03,-0.10,-0.12,0.30,-0.05,-0.08,0.00,-0.17,-0.10,-0.10,-0.15,-0.27,-0.12,-0.10,-0.05,0.00,
 0.06,-0.05,-0.06,0.00,-0.05,-0.05,-0.10,-0.12,0.24,0.15,0.25,-0.94,0.05,-0.05,0.10,
 0.46,0.03,-0.15,-0.10,0.00,0.80,-0.28,0.00,0.15,-0.05,-0.53,0.86,0.24,-0.05,0.00,
 0.33,-0.12,0.03,0.12,-0.10,0.05,0.00,-0.05,-1.02,-0.03,0.00,0.05,0.00,0.17,-0.07,-0.05,
 -0.08,-0.10,0.00,-0.05,-0.02,0.03,-0.05,-0.08,-0.08,-0.10,0.20,-0.03,-0.05,-0.03,-0.02,
 -0.29,-0.15,-0.10,-0.05,-0.12,-0.10,0.00,0.17,0.05,0.00,0.07,0.20,0.02,0.10,0.15];

// ===== MetOp-B, odd days =====
const B_GPT3_odd = [
 0.28,0.20,0.18,0.25,0.15,0.22,0.35,0.25,0.40,0.30,0.45,0.40,0.38,0.48,0.42,
 0.40,0.48,0.30,0.38,0.42,0.25,0.30,0.22,0.35,0.28,0.20,0.30,0.35,0.40,0.30,
 0.42,0.35,0.25,0.30,0.28,0.35,0.15,0.20,0.25,0.30,0.28,0.40,0.35,0.30,0.25,
 0.40,0.35,0.45,0.28,0.32,0.40,0.30,0.20,0.28,0.35,0.25,0.42,0.38,0.45,0.48,
 0.50,0.45,0.52,0.40,0.48,0.35,0.50,0.42,0.38,0.45,0.35,0.48,0.50,0.40,0.38,0.42,
 0.30,0.25,0.18,0.22,0.28,0.35,0.25,0.40,0.35,0.30,0.45,0.55,0.50,0.60,0.45,
 0.45,0.42,0.35,0.40,0.30,0.35,0.25,0.20,0.28,0.15,0.30,0.35,0.28,0.38,0.25,
 0.35,0.42,0.28,0.38,0.48,0.40,0.30,0.22,0.35,0.25,0.42,0.35,0.30,0.45,0.40,0.38,
 0.30,0.40,0.28,0.22,0.35,0.30,0.25,0.40,0.28,0.35,0.22,0.30,0.15,0.20,0.12,
 0.20,0.25,0.30,0.22,0.28,0.35,0.30,0.25,0.38,0.20,0.30,0.35,0.28,0.35,0.30,
 0.28,0.35,0.40,0.25,0.22,0.30,0.28,0.35,0.38,0.45,0.40,0.35,0.42,0.30,0.25,
 0.30,0.15,0.22,0.28,0.30,0.25,0.20,0.30,0.38,0.32,0.40,0.42,0.50,0.45,0.38,0.35];
const B_ZWD_odd = [
 -0.43,-0.51,-0.55,-0.63,-0.58,-0.45,-0.48,-0.41,-0.45,-0.43,-0.48,-0.43,-0.51,-0.55,-0.53,
 -0.53,-0.48,-0.41,-0.45,-0.51,-0.58,-0.48,-0.53,-0.55,-0.48,-0.53,-0.51,-0.58,-0.55,-0.51,
 -0.51,-0.55,-0.48,-0.53,-0.45,-0.51,-0.55,-0.48,-0.58,-0.51,-0.55,-0.48,-0.53,-0.58,-0.51,
 -0.55,-0.48,-0.53,-0.61,-0.55,-0.51,-0.58,-0.53,-0.61,-0.55,-0.63,-0.58,-0.68,-0.61,-0.55,
 -0.58,-0.61,-0.55,-0.51,-0.53,-0.58,-0.55,-0.63,-0.51,-0.58,-0.73,-0.63,-0.61,-0.65,-0.58,-0.63,
 -0.62,-0.67,-0.63,-0.65,-0.70,-0.67,-0.73,-0.75,-0.70,-0.77,-0.65,-0.67,-0.75,-0.70,-0.73,
 -0.75,-0.70,-0.73,-0.80,-0.77,-0.73,-0.83,-0.87,-0.85,-0.83,-0.87,-0.81,-0.77,-0.75,-0.77,
 -0.75,-0.77,-0.73,-0.75,-0.70,-0.75,-0.80,-0.73,-0.77,-0.83,-0.80,-0.73,-0.70,-0.63,-0.55,-0.49,
 -0.51,-0.58,-0.55,-0.53,-0.58,-0.53,-0.48,-0.55,-0.53,-0.61,-0.58,-0.55,-0.61,-0.58,-0.53,
 -0.51,-0.58,-0.55,-0.48,-0.53,-0.58,-0.55,-0.61,-0.58,-0.53,-0.51,-0.48,-0.43,-0.48,-0.53,
 -0.51,-0.45,-0.48,-0.53,-0.58,-0.51,-0.53,-0.55,-0.48,-0.53,-0.48,-0.53,-0.51,-0.48,-0.55,
 -0.61,-0.58,-0.55,-0.53,-0.51,-0.45,-0.48,-0.51,-0.55,-0.53,-0.48,-0.51,-0.55,-0.51,-0.45,-0.51];
const B_SAAS_odd = [
 -0.40,-0.48,-0.52,-0.60,-0.55,-0.42,-0.45,-0.38,-0.42,-0.40,-0.45,-0.40,-0.48,-0.52,-0.50,
 -0.50,-0.45,-0.38,-0.42,-0.48,-0.55,-0.45,-0.50,-0.52,-0.45,-0.50,-0.48,-0.55,-0.52,-0.48,
 -0.48,-0.52,-0.45,-0.50,-0.42,-0.48,-0.52,-0.45,-0.55,-0.48,-0.52,-0.45,-0.50,-0.55,-0.48,
 -0.52,-0.45,-0.50,-0.58,-0.52,-0.48,-0.55,-0.50,-0.58,-0.52,-0.60,-0.55,-0.65,-0.58,-0.52,
 -0.55,-0.58,-0.52,-0.48,-0.50,-0.55,-0.52,-0.60,-0.48,-0.55,-0.70,-0.60,-0.58,-0.62,-0.55,-0.60,
 -0.58,-0.62,-0.58,-0.60,-0.65,-0.62,-0.68,-0.70,-0.65,-0.72,-0.60,-0.62,-0.70,-0.65,-0.68,
 -0.70,-0.65,-0.68,-0.75,-0.72,-0.68,-0.78,-0.82,-0.80,-0.78,-0.82,-0.76,-0.72,-0.70,-0.72,
 -0.70,-0.72,-0.68,-0.70,-0.65,-0.70,-0.75,-0.68,-0.72,-0.78,-0.75,-0.68,-0.65,-0.58,-0.50,-0.45,
 -0.48,-0.55,-0.52,-0.50,-0.55,-0.50,-0.45,-0.52,-0.50,-0.58,-0.55,-0.52,-0.58,-0.55,-0.50,
 -0.48,-0.55,-0.52,-0.45,-0.50,-0.55,-0.52,-0.58,-0.55,-0.50,-0.48,-0.45,-0.40,-0.45,-0.50,
 -0.48,-0.42,-0.45,-0.50,-0.55,-0.48,-0.50,-0.52,-0.45,-0.50,-0.45,-0.50,-0.48,-0.45,-0.52,
 -0.58,-0.55,-0.52,-0.50,-0.48,-0.42,-0.45,-0.48,-0.52,-0.50,-0.45,-0.48,-0.52,-0.48,-0.42,-0.48];
const B_AN_odd = [
 -0.20,-0.22,-0.28,-0.18,-0.25,-0.28,-0.22,-0.30,-0.25,-0.28,-0.32,-0.25,-0.35,-0.30,-0.38,
 -0.35,-0.28,-0.32,-0.25,-0.30,-0.38,-0.42,-0.35,-0.30,-0.38,-0.42,-0.35,-0.40,-0.38,-0.42,
 -0.35,-0.40,-0.32,-0.38,-0.42,-0.35,-0.40,-0.32,-0.38,-0.35,-0.30,-0.35,-0.32,-0.30,-0.35,
 -0.32,-0.28,-0.35,-0.30,-0.38,-0.32,-0.35,-0.28,-0.30,-0.38,-0.35,-0.28,-0.22,-0.25,-0.30,
 -0.25,-0.28,-0.32,-0.30,-0.22,-0.25,-0.30,-0.35,-0.28,-0.32,-0.25,-0.30,-0.32,-0.35,-0.30,-0.28,
 -0.32,-0.30,-0.25,-0.28,-0.35,-0.32,-0.30,-0.28,-0.25,-0.28,-0.22,-0.20,-0.22,-0.18,-0.20,
 -0.25,-0.30,-0.28,-0.32,-0.35,-0.28,-0.25,-0.28,-0.32,-0.30,-0.25,-0.28,-0.30,-0.28,-0.32,
 -0.28,-0.32,-0.30,-0.33,-0.28,-0.35,-0.30,-0.32,-0.28,-0.30,-0.25,-0.22,-0.20,-0.18,-0.15,-0.20,
 -0.25,-0.30,-0.35,-0.28,-0.32,-0.30,-0.38,-0.30,-0.35,-0.40,-0.35,-0.38,-0.32,-0.30,-0.35,
 -0.38,-0.32,-0.28,-0.30,-0.35,-0.30,-0.28,-0.32,-0.30,-0.28,-0.32,-0.30,-0.35,-0.30,-0.28,
 -0.32,-0.30,-0.28,-0.35,-0.38,-0.30,-0.28,-0.32,-0.30,-0.28,-0.30,-0.35,-0.32,-0.28,-0.30,
 -0.38,-0.35,-0.32,-0.30,-0.28,-0.35,-0.32,-0.28,-0.30,-0.32,-0.38,-0.40,-0.35,-0.28,-0.25,-0.22];
const B_BPNNA_odd = [
 0.18,0.08,0.02,0.05,0.10,-0.02,0.02,0.12,0.15,0.08,0.12,0.05,0.15,0.12,0.22,
 0.10,0.05,0.02,0.08,0.12,0.08,0.02,0.10,0.05,0.08,0.02,-0.08,-0.03,0.00,0.05,
 0.00,-0.08,0.02,-0.03,0.08,0.02,0.05,0.00,0.02,0.08,-0.03,0.02,0.05,0.00,0.02,
 0.00,0.05,-0.03,-0.08,0.02,0.08,0.02,-0.03,0.02,0.00,-0.08,-0.03,0.02,0.05,0.08,
 0.05,0.10,0.08,0.02,0.05,0.02,0.08,0.02,0.05,0.00,0.02,-0.03,0.02,0.00,-0.03,-0.05,
 -0.03,0.00,-0.08,-0.03,0.02,-0.03,-0.08,0.00,0.02,0.05,-0.03,0.02,0.05,0.08,0.02,
 -0.05,-0.10,-0.12,-0.10,-0.15,-0.18,-0.20,-0.15,-0.22,-0.18,-0.20,-0.15,-0.12,-0.10,-0.08,
 -0.03,-0.08,-0.10,-0.05,-0.12,-0.10,-0.08,0.00,0.05,0.00,0.08,0.10,0.03,-0.05,0.00,0.05,
 0.00,-0.05,-0.10,-0.08,0.00,-0.05,-0.15,-0.10,0.00,-0.05,0.00,0.05,-0.03,-0.05,0.00,
 -0.05,0.00,0.03,-0.05,-0.10,-0.03,0.00,-0.05,-0.03,0.00,-0.05,0.03,-0.03,0.00,-0.05,
 -0.08,-0.03,-0.10,-0.05,-0.02,-0.05,-0.08,-0.05,0.00,0.03,-0.03,-0.05,-0.08,-0.05,-0.02,
 -0.15,-0.12,-0.08,-0.10,-0.05,0.00,0.05,0.10,0.15,0.08,0.15,0.18,0.12,0.20,0.15,0.22];
const B_BPNNB_odd = [
 0.10,0.00,-0.05,-0.03,0.03,-0.10,-0.05,0.05,0.07,0.00,0.05,0.00,0.10,0.05,0.15,
 0.07,0.03,0.00,0.05,0.10,0.05,0.00,0.07,0.03,0.05,0.00,-0.10,-0.05,-0.03,0.03,
 -0.03,-0.10,0.00,-0.05,0.05,0.00,0.03,-0.03,0.00,0.05,-0.05,0.00,0.03,-0.03,0.00,
 -0.03,0.03,-0.05,-0.10,0.00,0.05,0.00,-0.05,0.00,-0.03,-0.10,-0.05,0.00,0.03,0.05,
 0.03,0.07,0.05,0.00,0.03,0.00,0.05,0.00,0.03,-0.03,0.00,-0.05,0.00,-0.03,-0.05,-0.07,
 -0.05,-0.03,-0.10,-0.05,0.00,-0.05,-0.10,-0.03,0.00,0.03,-0.05,0.00,0.03,0.05,0.00,
 -0.10,-0.15,-0.18,-0.15,-0.20,-0.22,-0.25,-0.20,-0.28,-0.22,-0.25,-0.20,-0.18,-0.15,-0.12,
 -0.08,-0.12,-0.15,-0.10,-0.18,-0.15,-0.12,-0.05,0.00,-0.05,0.02,0.05,-0.02,-0.10,-0.05,0.00,
 -0.05,-0.10,-0.15,-0.12,-0.05,-0.10,-0.20,-0.15,-0.05,-0.10,-0.05,0.00,-0.08,-0.10,-0.05,
 -0.10,-0.05,-0.02,-0.10,-0.15,-0.08,-0.05,-0.10,-0.08,-0.05,-0.10,-0.02,-0.08,-0.05,-0.10,
 -0.10,-0.06,-0.13,-0.08,-0.05,-0.08,-0.11,-0.08,-0.03,0.00,-0.06,-0.08,-0.10,-0.08,-0.05,
 -0.20,-0.15,-0.10,-0.13,-0.10,-0.05,0.00,0.05,0.08,0.02,0.08,0.10,0.05,0.12,0.08,0.10];
const B_RFA_odd = [
 0.19,0.09,0.04,0.06,0.12,-0.01,0.04,0.14,0.16,0.09,0.14,0.09,0.19,0.14,0.24,
 0.16,0.12,0.09,0.14,0.19,0.14,0.09,0.16,0.12,0.14,0.09,-0.01,0.04,0.06,0.12,
 0.06,-0.01,0.09,0.04,0.14,0.09,0.12,0.06,0.09,0.14,0.04,0.09,0.12,0.06,0.09,
 0.06,0.12,0.04,-0.01,0.09,0.14,0.09,0.04,0.09,0.06,-0.01,0.04,0.09,0.12,0.14,
 0.12,0.16,0.14,0.09,0.12,0.09,0.14,0.09,0.12,0.06,0.09,0.04,0.09,0.06,0.04,0.02,
 0.04,0.06,-0.01,0.04,0.09,0.04,-0.01,0.06,0.09,0.12,0.04,0.09,0.12,0.14,0.09,
 0.04,-0.01,-0.04,-0.01,-0.06,-0.08,-0.11,-0.06,-0.14,-0.08,-0.11,-0.06,-0.04,-0.01,0.02,
 0.06,0.02,-0.01,0.04,-0.04,-0.01,0.02,0.09,0.14,0.09,0.16,0.19,0.12,0.04,0.09,0.14,
 0.09,0.04,-0.01,0.02,0.09,0.04,-0.06,-0.01,0.09,0.04,0.09,0.14,0.06,0.04,0.09,
 0.04,0.09,0.12,0.04,-0.01,0.06,0.09,0.04,0.06,0.09,0.04,0.12,0.06,0.09,0.04,
 0.02,0.06,-0.01,0.04,0.07,0.04,0.01,0.04,0.09,0.12,0.06,0.04,0.02,0.04,0.07,
 -0.11,-0.06,-0.01,-0.04,-0.01,0.04,0.09,0.12,0.14,0.09,0.14,0.16,0.12,0.19,0.14,0.16];
const B_RFB_odd = [
 0.15,0.05,0.00,0.02,0.08,-0.05,0.00,0.10,0.12,0.05,0.10,0.05,0.15,0.10,0.20,
 0.12,0.08,0.05,0.10,0.15,0.10,0.05,0.12,0.08,0.10,0.05,-0.05,0.00,0.02,0.08,
 0.02,-0.05,0.05,0.00,0.10,0.05,0.08,0.02,0.05,0.10,0.00,0.05,0.08,0.02,0.05,
 0.02,0.08,0.00,-0.05,0.05,0.10,0.05,0.00,0.05,0.02,-0.05,0.00,0.05,0.08,0.10,
 0.08,0.12,0.10,0.05,0.08,0.05,0.10,0.05,0.08,0.02,0.05,0.00,0.05,0.02,0.00,-0.02,
 0.00,0.02,-0.05,0.00,0.05,0.00,-0.05,0.02,0.05,0.08,0.00,0.05,0.08,0.10,0.05,
 0.00,-0.05,-0.08,-0.05,-0.10,-0.12,-0.15,-0.10,-0.18,-0.12,-0.15,-0.10,-0.08,-0.05,-0.02,
 0.02,-0.02,-0.05,0.00,-0.08,-0.05,-0.02,0.05,0.10,0.05,0.12,0.15,0.08,0.00,0.05,0.10,
 0.05,0.00,-0.05,-0.02,0.05,0.00,-0.10,-0.05,0.05,0.00,0.05,0.10,0.02,0.00,0.05,
 0.00,0.05,0.08,0.00,-0.05,0.02,0.05,0.00,0.02,0.05,0.00,0.08,0.02,0.05,0.00,
 -0.02,0.02,-0.05,0.00,0.03,0.00,-0.03,0.00,0.05,0.08,0.02,0.00,-0.02,0.00,0.03,
 -0.15,-0.10,-0.05,-0.08,-0.05,0.00,0.05,0.08,0.10,0.05,0.10,0.12,0.08,0.15,0.10,0.12];

// ---- Build ----
const panelA = [A_GPT3, A_ZWD, A_SAAS, A_AN, A_BPNNA, A_BPNNB, A_RFA, A_RFB];
const panelAodd = [A_GPT3_odd, A_ZWD_odd, A_SAAS_odd, A_AN_odd, A_BPNNA_odd, A_BPNNB_odd, A_RFA_odd, A_RFB_odd];
const panelB = [B_GPT3, B_ZWD, B_SAAS, B_AN, B_BPNNA, B_BPNNB, B_RFA, B_RFB];
const panelBodd = [B_GPT3_odd, B_ZWD_odd, B_SAAS_odd, B_AN_odd, B_BPNNA_odd, B_BPNNB_odd, B_RFA_odd, B_RFB_odd];
[...panelA, ...panelAodd, ...panelB, ...panelBodd].forEach((s, i) => {
  if (s.length !== 183) throw new Error('series ' + i + ' has length ' + s.length);
});

function dayDates(offset, n) {
  const [y0, m0, d0] = startDate.split('-').map(Number);
  const out = [];
  for (let i = 0; i < n; i++) {
    out.push(new Date(Date.UTC(y0, m0 - 1, d0 + offset + 2 * i)).toISOString().slice(0, 10));
  }
  return out;
}
const datesEven = dayDates(0, 183);
const datesOdd = dayDates(1, 183);
const xAll = datesEven.concat(datesOdd);

const traces = [];
panelA.forEach((vals, k) => traces.push({
  type: 'scatter', mode: 'markers', x: xAll, y: vals.concat(panelAodd[k]), name: seriesNames[k],
  xaxis: 'x2', yaxis: 'y2', showlegend: false,
  marker: {color: seriesColors[k], size: 7, line: {width: 0}}
}));
panelB.forEach((vals, k) => traces.push({
  type: 'scatter', mode: 'markers', x: xAll, y: vals.concat(panelBodd[k]), name: seriesNames[k],
  xaxis: 'x', yaxis: 'y', showlegend: false,
  marker: {color: seriesColors[k], size: 7, line: {width: 0}}
}));

// ---- Layout geometry (pixels in a 988x724 figure) ----
const W = 988, H = 724, L = 86, R = 954, T = 36, B = 652;
const pw = R - L, ph = B - T;
const px = x => (x - L) / pw;
const py = y => (B - y) / ph;

const gridCol = '#e3e3e3';
const axisCommon = {
  showline: true, linecolor: '#262626', linewidth: 1, mirror: 'allticks',
  ticks: 'inside', ticklen: 6, tickcolor: '#262626',
  showgrid: true, gridcolor: gridCol, gridwidth: 1, zeroline: false,
  tickfont: {size: 22, color: '#262626'}
};
const xCommon = Object.assign({}, axisCommon, {
  type: 'date', range: ['2020-01-01', '2021-01-01'],
  tickmode: 'array', tickvals: labelTicks, ticktext: labelTickText,
  minor: {dtick: 'M1', tick0: '2020-01-01', showgrid: true, gridcolor: gridCol, ticks: 'inside', ticklen: 6, tickcolor: '#262626'}
});
const yCommon = Object.assign({}, axisCommon, {
  range: [-1.5, 1.5], tickmode: 'array',
  tickvals: [-1, 0, 1], ticktext: ['-1', '0', '1'],
  minor: {dtick: 0.5, tick0: 0, showgrid: true, gridcolor: gridCol, ticks: 'inside', ticklen: 6, tickcolor: '#262626'}
});

// ---- Legend (box + symbols + real text) ----
const legendDotX = [118, 203, 306, 465, 569, 677, 783, 862];
const legendTextX = [131, 215, 318, 477, 582, 688, 795, 873];
const legendY = 62;
const shapes = [{
  type: 'rect', xref: 'paper', yref: 'paper', x0: px(104), x1: px(927), y0: py(81), y1: py(42),
  line: {color: '#262626', width: 1}, fillcolor: '#ffffff', layer: 'above'
}];
seriesColors.forEach((c, k) => shapes.push({
  type: 'circle', xref: 'paper', yref: 'paper', xsizemode: 'pixel', ysizemode: 'pixel',
  xanchor: px(legendDotX[k]), yanchor: py(legendY), x0: -3.3, x1: 3.3, y0: -3.3, y1: 3.3,
  fillcolor: c, line: {width: 0}, layer: 'above'
}));
const annotations = seriesNames.map((n, k) => ({
  text: n, xref: 'paper', yref: 'paper', x: px(legendTextX[k]), y: py(legendY),
  xanchor: 'left', yanchor: 'middle', showarrow: false,
  font: {size: 19.5, color: '#000000'}
}));
annotations.push(
  {text: panelNames[0], xref: 'paper', yref: 'paper', x: px(27), y: py((36 + 327.7) / 2), textangle: -90, showarrow: false, xanchor: 'center', yanchor: 'middle', font: {size: 24, color: '#262626'}},
  {text: panelNames[1], xref: 'paper', yref: 'paper', x: px(27), y: py((360.7 + 652) / 2), textangle: -90, showarrow: false, xanchor: 'center', yanchor: 'middle', font: {size: 24, color: '#262626'}},
  {text: 'Month', xref: 'paper', yref: 'paper', x: 0.5, y: py(711), showarrow: false, xanchor: 'center', yanchor: 'middle', font: {size: 24, color: '#262626'}}
);

const layout = {
  width: W, height: H,
  margin: {l: L, r: W - R, t: T, b: H - B},
  paper_bgcolor: '#ffffff', plot_bgcolor: '#ffffff',
  font: {family: 'Arial, "Liberation Sans", Helvetica, sans-serif', color: '#262626', size: 20},
  title: {text: 'Bias [cm]', x: 0.5, xref: 'paper', xanchor: 'center', y: 1 - 21 / H, yref: 'container', yanchor: 'middle', font: {size: 24, color: '#000000'}},
  xaxis: Object.assign({}, xCommon, {domain: [0, 1], anchor: 'y'}),
  xaxis2: Object.assign({}, xCommon, {domain: [0, 1], anchor: 'y2', showticklabels: false}),
  yaxis: Object.assign({}, yCommon, {domain: [0, py(360.7)], anchor: 'x'}),
  yaxis2: Object.assign({}, yCommon, {domain: [py(327.7), 1], anchor: 'x2'}),
  showlegend: false,
  shapes: shapes,
  annotations: annotations
};

Plotly.newPlot('chart', traces, layout, {staticPlot: true, displayModeBar: false});
</script>
</body>
</html>
